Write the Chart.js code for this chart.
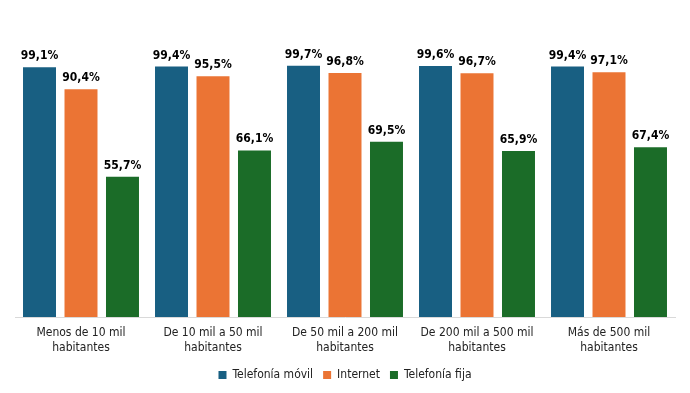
<!DOCTYPE html>
<html>
<head>
<meta charset="utf-8">
<script src="https://cdn.jsdelivr.net/npm/chart.js@4"></script>
<style>
  html, body { margin: 0; padding: 0; background: #fff; }
  #wrap { width: 690px; height: 393px; }
</style>
</head>
<body>
<div id="wrap"><canvas id="chart"></canvas></div>
<script>
// data
const categories = [
    ["Menos de 10 mil", "habitantes"],
    ["De 10 mil a 50 mil", "habitantes"],
    ["De 50 mil a 200 mil", "habitantes"],
    ["De 200 mil a 500 mil", "habitantes"],
    ["Más de 500 mil", "habitantes"]
];
const movil = [99.1, 99.4, 99.7, 99.6, 99.4];
const internet = [90.4, 95.5, 96.8, 96.7, 97.1];
const fija = [55.7, 66.1, 69.5, 65.9, 67.4];
const seriesNames = ["Telefonía móvil", "Internet", "Telefonía fija"];

const colors = ["#185f82", "#eb7434", "#1b6c28"];

// value labels above bars (no datalabels plugin available)
const valueLabels = {
    id: "valueLabels",
    afterDatasetsDraw(chart) {
        const ctx = chart.ctx;
        ctx.save();
        ctx.font = "bold 12px 'DejaVu Sans Condensed'";
        ctx.fillStyle = "#000";
        ctx.textAlign = "center";
        ctx.textBaseline = "alphabetic";
        chart.data.datasets.forEach((ds, i) => {
            chart.getDatasetMeta(i).data.forEach((bar, j) => {
                const txt = ds.data[j].toFixed(1).replace(".", ",") + "%";
                ctx.fillText(txt, bar.x, bar.y - 8);
            });
        });
        ctx.restore();
    }
};

new Chart(document.getElementById("chart"), {
    type: "bar",
    data: {
        labels: categories,
        datasets: [
            { label: seriesNames[0], data: movil, backgroundColor: colors[0] },
            { label: seriesNames[1], data: internet, backgroundColor: colors[1] },
            { label: seriesNames[2], data: fija, backgroundColor: colors[2] }
        ]
    },
    options: {
        responsive: true,
        maintainAspectRatio: false,
        animation: false,
        datasets: {
            bar: { categoryPercentage: 0.943, barPercentage: 0.795 }
        },
        layout: { padding: { left: 15, right: 15, top: 65, bottom: 2 } },
        scales: {
            x: {
                grid: { display: false },
                border: { color: "#d9d9d9" },
                ticks: {
                    color: "#222",
                    font: { family: "'DejaVu Sans Condensed'", size: 12, lineHeight: 1.25 },
                    maxRotation: 0,
                    padding: 0
                },
                afterFit(scale) { scale.height += 4; }
            },
            y: { display: false, min: 0, max: 100 }
        },
        plugins: {
            legend: {
                position: "bottom",
                labels: {
                    color: "#222",
                    font: { family: "'DejaVu Sans Condensed'", size: 12 },
                    boxWidth: 8,
                    boxHeight: 8,
                    padding: 10
                }
            },
            tooltip: { enabled: false }
        }
    },
    plugins: [valueLabels]
});
</script>
</body>
</html>
